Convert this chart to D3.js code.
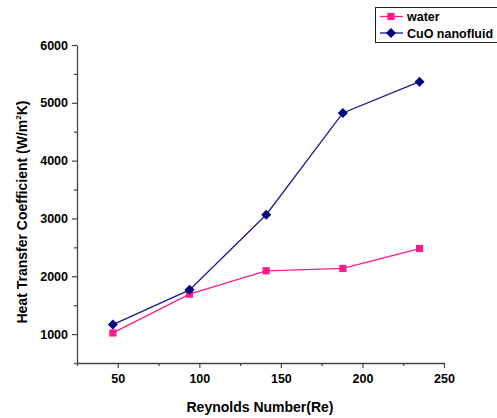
<!DOCTYPE html>
<html>
<head>
<meta charset="utf-8">
<script src="https://cdn.jsdelivr.net/npm/d3@7"></script>
<style>
  body { margin: 0; background: #fff; }
  svg { font-family: "Liberation Sans", Arial, sans-serif; font-weight: bold; }
</style>
</head>
<body>
<svg width="497" height="418"></svg>
<script>
var reynolds = [47, 94, 141, 188, 235];
var water = [1020, 1690, 2095, 2135, 2480];
var cuo = [1165, 1765, 3065, 4825, 5365];
var xTicks = [50, 100, 150, 200, 250];
var yTicks = [1000, 2000, 3000, 4000, 5000, 6000];

const svg = d3.select("svg");

var x = d3.scaleLinear().domain([25, 250]).range([77, 444]);
var y = d3.scaleLinear().domain([500, 6000]).range([363, 45]);

var axisColor = "#444";

// x axis
var xAxis = svg.append("g").attr("transform", "translate(0,363)");
xAxis
  .call(d3.axisBottom(x).tickValues(xTicks).tickSize(5).tickSizeOuter(0).tickPadding(6).tickFormat(d3.format("d")))
  .call((g) => g.select(".domain").attr("stroke", axisColor).attr("stroke-width", 1.3))
  .call((g) => g.selectAll(".tick line").attr("stroke", axisColor).attr("stroke-width", 1.2))
  .call((g) => g.selectAll("text").attr("fill", "#000").attr("font-size", 12.5).attr("font-weight", "bold").attr("font-family", "Liberation Sans, Arial, sans-serif"));
svg.append("g").attr("transform", "translate(0,363)")
  .call(d3.axisBottom(x).tickValues([25, 75, 125, 175, 225]).tickSize(3).tickFormat(""))
  .call((g) => g.select(".domain").remove())
  .call((g) => g.selectAll(".tick line").attr("stroke", axisColor).attr("stroke-width", 1.2));

// y axis
var yAxis = svg.append("g").attr("transform", "translate(77,0)");
yAxis
  .call(d3.axisLeft(y).tickValues(yTicks).tickSize(5).tickSizeOuter(0).tickPadding(4).tickFormat(d3.format("d")))
  .call((g) => g.select(".domain").attr("stroke", axisColor).attr("stroke-width", 1.3))
  .call((g) => g.selectAll(".tick line").attr("stroke", axisColor).attr("stroke-width", 1.2))
  .call((g) => g.selectAll("text").attr("fill", "#000").attr("font-size", 12.5).attr("font-weight", "bold").attr("font-family", "Liberation Sans, Arial, sans-serif"));
svg.append("g").attr("transform", "translate(77,0)")
  .call(d3.axisLeft(y).tickValues([500, 1500, 2500, 3500, 4500, 5500]).tickSize(3).tickFormat(""))
  .call((g) => g.select(".domain").remove())
  .call((g) => g.selectAll(".tick line").attr("stroke", axisColor).attr("stroke-width", 1.2));

// axis titles
svg.append("text")
  .attr("x", 260)
  .attr("y", 412)
  .attr("text-anchor", "middle")
  .attr("font-size", 14)
  .text("Reynolds Number(Re)");

var yTitle = svg.append("text")
  .attr("transform", "translate(27,212) rotate(-90)")
  .attr("text-anchor", "middle")
  .attr("font-size", 14);
yTitle.append("tspan").text("Heat Transfer Coefficient (W/m");
yTitle.append("tspan").attr("font-size", 8).attr("dy", -6).text("2");
yTitle.append("tspan").attr("dy", 6).text("K)");

// series
var series = [
  { name: "water", values: water, color: "#ff1a8c", marker: "square", stroke: "#ff1a8c" },
  { name: "CuO nanofluid", values: cuo, color: "#000080", marker: "diamond", stroke: "#1a1a8c" },
];

var line = d3.line()
  .x((d) => x(d[0]))
  .y((d) => y(d[1]));

var squareSym = d3.symbol().type(d3.symbolSquare).size(52);
var diamondSym = d3.symbol().type(d3.symbolSquare).size(50);

series.forEach(function (s) {
  var pts = reynolds.map((r, i) => [r, s.values[i]]);
  svg.append("path")
    .datum(pts)
    .attr("d", line)
    .attr("fill", "none")
    .attr("stroke", s.stroke)
    .attr("stroke-width", 1.3);
  svg.append("g")
    .selectAll("path")
    .data(pts)
    .enter()
    .append("path")
    .attr("d", s.marker == "square" ? squareSym : diamondSym)
    .attr("transform", (d) => `translate(${x(d[0])},${y(d[1])})` + (s.marker == "diamond" ? " rotate(45)" : ""))
    .attr("fill", s.color);
});

// legend
var legend = svg.append("g");
legend.append("rect")
  .attr("x", 375.5)
  .attr("y", 7.5)
  .attr("width", 130)
  .attr("height", 35)
  .attr("fill", "#fff")
  .attr("stroke", "#222")
  .attr("stroke-width", 1);

series.forEach(function (s, i) {
  var ly = 16.5 + i * 16.5;
  legend.append("line")
    .attr("x1", 380)
    .attr("x2", 403)
    .attr("y1", ly)
    .attr("y2", ly)
    .attr("stroke", s.stroke)
    .attr("stroke-width", 1.3);
  legend.append("path")
    .attr("d", s.marker == "square" ? squareSym : diamondSym)
    .attr("transform", `translate(391,${ly})` + (s.marker == "diamond" ? " rotate(45)" : ""))
    .attr("fill", s.color);
  legend.append("text")
    .attr("x", 407)
    .attr("y", ly + 4.5)
    .attr("font-size", 12.5)
    .text(s.name);
});
</script>
</body>
</html>
